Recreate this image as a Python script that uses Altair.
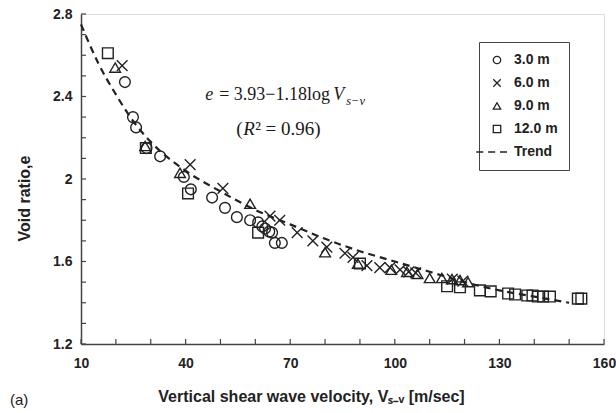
import altair as alt
import pandas as pd

# ---------------- data ----------------
depths = ["3.0 m", "6.0 m", "9.0 m", "12.0 m"]

v_3m = [22.6, 24.9, 25.8, 28.8, 32.7, 39.5, 41.5, 47.6, 51.3, 54.7, 58.5, 60.8, 62.0, 62.8, 64.0, 64.8, 65.6, 67.6]
e_3m = [2.47, 2.30, 2.25, 2.15, 2.11, 2.01, 1.95, 1.91, 1.86, 1.815, 1.80, 1.79, 1.77, 1.76, 1.745, 1.74, 1.69, 1.69]

v_6m = [21.8, 41.3, 50.7, 64.2, 67.0, 72.0, 76.5, 80.5, 85.7, 88.0, 92.0, 95.7, 98.6, 101.5, 104.0, 106.0, 116.5, 119.5]
e_6m = [2.55, 2.07, 1.955, 1.82, 1.80, 1.74, 1.70, 1.67, 1.64, 1.62, 1.58, 1.57, 1.57, 1.56, 1.55, 1.545, 1.515, 1.505]

v_9m = [19.8, 28.4, 38.4, 58.5, 80.0, 89.4, 99.0, 103.5, 106.5, 110.0, 113.5, 116.4, 118.7, 121.0]
e_9m = [2.54, 2.16, 2.03, 1.88, 1.645, 1.59, 1.56, 1.55, 1.54, 1.52, 1.52, 1.515, 1.51, 1.50]

v_12m = [17.7, 28.6, 40.7, 60.8, 90.0, 115.0, 118.7, 124.4, 127.5, 132.5, 134.5, 138.0, 139.5, 141.0, 142.5, 144.5, 152.5, 153.5]
e_12m = [2.61, 2.15, 1.93, 1.74, 1.59, 1.48, 1.475, 1.46, 1.455, 1.445, 1.44, 1.435, 1.435, 1.43, 1.43, 1.43, 1.42, 1.42]

trend_v = [10, 15, 20, 25, 30, 40, 50, 60, 70, 80, 90, 100, 110, 120, 130, 140, 150]
trend_e = [2.75, 2.56, 2.41, 2.28, 2.18, 2.04, 1.94, 1.85, 1.78, 1.71, 1.65, 1.60, 1.55, 1.50, 1.46, 1.43, 1.40]

x_major = [10, 40, 70, 100, 130, 160]
x_minor = [10, 20, 30, 40, 50, 60, 70, 80, 90, 100, 110, 120, 130, 140, 150, 160]
y_major = [1.2, 1.6, 2.0, 2.4, 2.8]
y_minor = [1.2, 1.3, 1.4, 1.5, 1.6, 1.7, 1.8, 1.9, 2.0, 2.1, 2.2, 2.3, 2.4, 2.5, 2.6, 2.7, 2.8]

# ---------------- tables ----------------
rows = []
for d, vs, es in zip(depths, [v_3m, v_6m, v_9m, v_12m], [e_3m, e_6m, e_9m, e_12m]):
    for v, e in zip(vs, es):
        rows.append({"depth": d, "V": v, "e": e})
pts = pd.DataFrame(rows)
trend = pd.DataFrame({"V": trend_v, "e": trend_e})
xt = pd.DataFrame({"V": x_minor})
yt = pd.DataFrame({"e": y_minor})

X_PATH = "M-1,-1L1,1M-1,1L1,-1"
DASH_PATH = "M-5.6,0H-3.7M-2.4,0H-0.5M0.8,0H2.7"
shape_domain = depths + ["Trend"]
shape_range = ["circle", X_PATH, "triangle-up", "square", DASH_PATH]

FONT = "Liberation Sans"
SERIF = "Liberation Serif"
INK = "#222222"

xs = alt.Scale(domain=[10, 160], nice=False, zero=False)
ys = alt.Scale(domain=[1.2, 2.8], nice=False, zero=False)

x_axis = alt.Axis(values=x_major, ticks=False, grid=False, labelFont=FONT, labelFontWeight="bold",
                  labelFontSize=14, labelColor=INK, labelPadding=12, domainColor="#444", domainWidth=1.5,
                  title="Vertical shear wave velocity, Vₛ₋ᵥ [m/sec]", titleFont=FONT, titleFontWeight="bold",
                  titleFontSize=16, titleColor=INK, titlePadding=18, labelFlush=False,
                  titleX=230, titleAlign="center")
y_axis = alt.Axis(values=y_major, ticks=False, grid=False, labelFont=FONT, labelFontWeight="bold",
                  labelFontSize=14, labelColor=INK, labelPadding=9, domainColor="#444", domainWidth=1.5,
                  title="Void ratio,e", titleFont=FONT, titleFontWeight="bold", titleFontSize=16,
                  titleColor=INK, titlePadding=20, labelFlush=False, format="~g",
                  titleY=184, titleAlign="center")

points = alt.Chart(pts).mark_point(filled=False, size=115, stroke=INK, strokeWidth=1.4, opacity=1).encode(
    x=alt.X("V:Q", scale=xs, axis=x_axis),
    y=alt.Y("e:Q", scale=ys, axis=y_axis),
    shape=alt.Shape("depth:N", sort=shape_domain,
                    scale=alt.Scale(domain=shape_domain, range=shape_range),
                    legend=alt.Legend(title=None, orient="none", legendX=398, legendY=28,
                                      padding=11, strokeColor="#444", fillColor="white",
                                      labelFont=FONT, labelFontWeight="bold", labelFontSize=14,
                                      labelColor=INK, symbolSize=55, symbolStrokeWidth=1.3,
                                      symbolStrokeColor=INK, symbolFillColor="transparent",
                                      rowPadding=9, labelOffset=10)),
)

trend_line = alt.Chart(trend).mark_line(stroke=INK, strokeWidth=2.2, strokeDash=[7, 5],
                                        interpolate="monotone").encode(
    x=alt.X("V:Q", scale=xs), y=alt.Y("e:Q", scale=ys))

x_ticks = alt.Chart(xt).mark_rule(stroke="#444", strokeWidth=1.2).encode(
    x=alt.X("V:Q", scale=xs), y=alt.value(330), y2=alt.value(325))
y_ticks = alt.Chart(yt).mark_rule(stroke="#444", strokeWidth=1.2).encode(
    y=alt.Y("e:Q", scale=ys), x=alt.value(0), x2=alt.value(5))

# equation annotation
eq_anchor = pd.DataFrame({"V": [45.6], "e": [2.383]})
r2_anchor = pd.DataFrame({"V": [54.5], "e": [2.212]})

def txt(df, text, dx=0, dy=0, size=18, style="normal", font=SERIF):
    return alt.Chart(df).mark_text(text=text, align="left", baseline="alphabetic", dx=dx, dy=dy,
                                   fontSize=size, fontStyle=style, font=font, color="#1a1a1a").encode(
        x=alt.X("V:Q", scale=xs), y=alt.Y("e:Q", scale=ys))

eq_layers = [
    txt(eq_anchor, "e", 0, style="italic"),
    txt(eq_anchor, "= 3.93−1.18log", 14),
    txt(eq_anchor, "V", 128, style="italic"),
    txt(eq_anchor, "s−v", 141, 5, size=12.5, style="italic"),
    txt(r2_anchor, "(", 0, size=19),
    txt(r2_anchor, "R", 7, size=19, style="italic"),
    txt(r2_anchor, "² = 0.96)", 19, size=19),
]

a_label = alt.Chart(eq_anchor).mark_text(text="(a)", align="left", baseline="middle", fontSize=15,
                                         font=FONT, color="#1a1a1a").encode(
    x=alt.value(-71), y=alt.value(386))

chart = alt.layer(trend_line, points, x_ticks, y_ticks, *eq_layers, a_label).properties(
    width=523, height=330,
    padding={"left": 81, "top": 14, "right": 12, "bottom": 69},
    autosize=alt.AutoSizeParams(type="none"),
).configure_view(stroke="#555", strokeWidth=1.5).configure(background="white")

chart.save("out.html", embed_options={"renderer": "svg", "actions": False})
